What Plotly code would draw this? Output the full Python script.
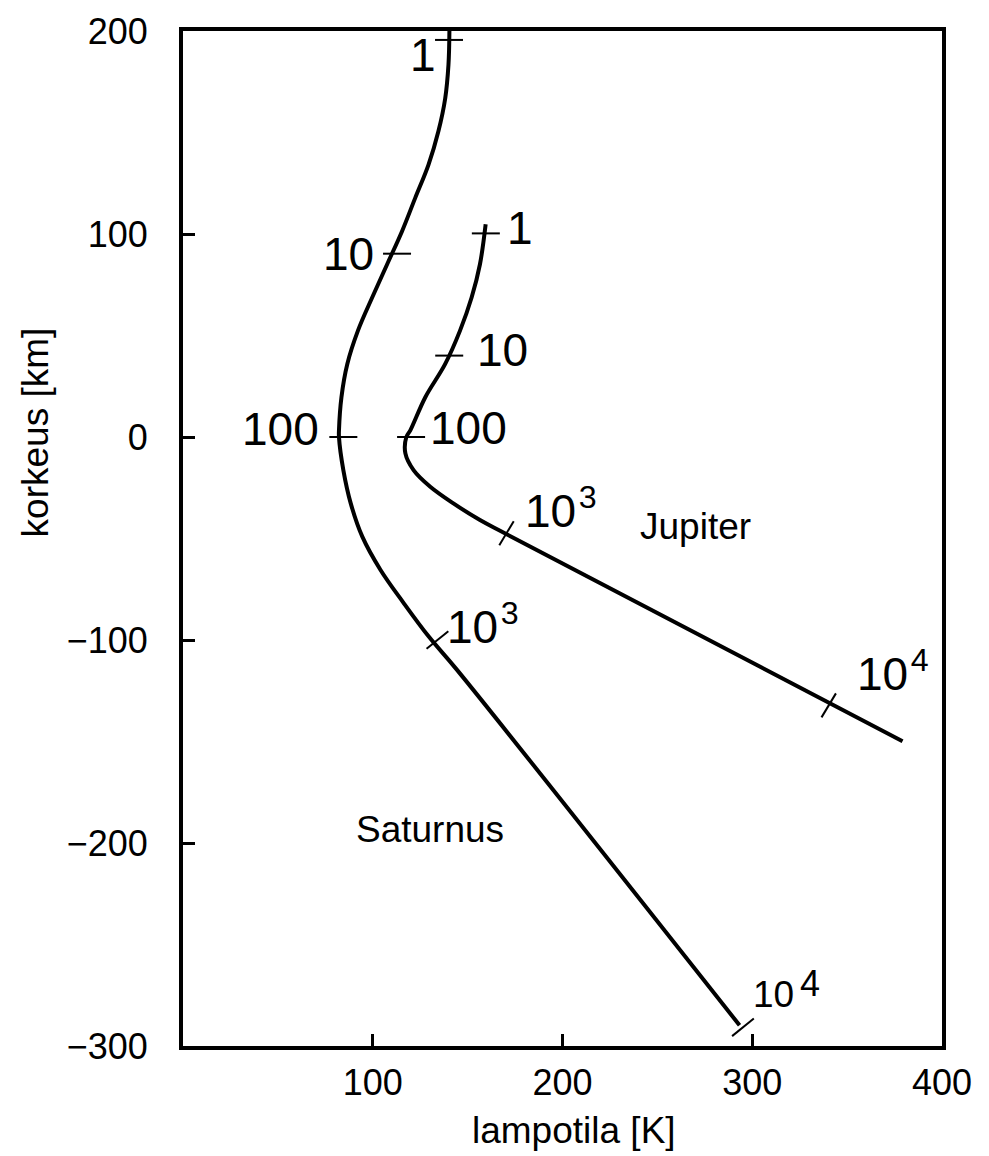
import plotly.graph_objects as go

# ---- data ----
# Saturn temperature profile: temperature [K], altitude [km]
saturn_T = [140.4, 139.9, 138.2, 134.6, 129.4, 122.4, 115.5, 107.6, 99.7, 92.2, 86.6, 83.5,
            82.2, 82.2, 84.5, 88.4, 94.5, 104.1, 116.3, 129.4, 144.3, 293.3]
saturn_h = [200.0, 183.3, 166.9, 150.6, 134.2, 117.8, 101.5, 85.1, 68.7, 52.4, 36.0, 19.6,
            3.3, 0.0, -16.3, -32.7, -49.1, -65.5, -81.8, -98.2, -114.6, -289.8]

# Jupiter temperature profile
jupiter_T = [159.5, 156.5, 152.1, 146.0, 138.2, 127.7, 119.8, 117.7, 117.2, 121.5, 130.3,
             142.5, 156.5, 169.6, 379.2]
jupiter_h = [104.8, 85.1, 68.7, 52.4, 36.0, 19.6, 3.3, 0.0, -8.1, -16.3, -24.5,
             -32.7, -40.9, -47.4, -149.9]

# pressure level markers (mbar) along the curves
saturn_p_T = [140.2, 112.8, 84.5, 134.1, 295.1]
saturn_p_h = [195.6, 90.3, 0.0, -100.0, -290.8]
saturn_p_lab = ["1", "10", "100", "10³", "10⁴"]

jupiter_p_T = [159.6, 140.3, 120.2, 170.5, 340.3]
jupiter_p_h = [100.3, 40.1, 0.0, -47.4, -132.2]
jupiter_p_lab = ["1", "10", "100", "10³", "10⁴"]

x_ticks = [100, 200, 300, 400]
y_ticks = [-300, -200, -100, 0, 100, 200]

FONT = "Liberation Sans, Arial, Helvetica, sans-serif"

fig = go.Figure()

for T, h in [(saturn_T, saturn_h), (jupiter_T, jupiter_h)]:
    fig.add_trace(go.Scatter(x=T, y=h, mode="lines",
                             line=dict(color="black", width=4, shape="spline", smoothing=1.0),
                             hoverinfo="skip", showlegend=False))

# marker orientation: horizontal for low-pressure marks, perpendicular to the line otherwise
def marker_angles(labels, slant):
    return [0 if lab in ("1", "10", "100") else slant for lab in labels]

def marker_symbols(labels):
    return ["line-ew" if lab in ("1", "10", "100") else "line-ns" for lab in labels]

fig.add_trace(go.Scatter(x=saturn_p_T, y=saturn_p_h, mode="markers",
                         marker=dict(symbol=marker_symbols(saturn_p_lab), size=20,
                                     angle=marker_angles(saturn_p_lab, 51),
                                     line=dict(color="black", width=2)),
                         hoverinfo="skip", showlegend=False))
fig.add_trace(go.Scatter(x=jupiter_p_T, y=jupiter_p_h, mode="markers",
                         marker=dict(symbol=marker_symbols(jupiter_p_lab), size=20,
                                     angle=marker_angles(jupiter_p_lab, 31),
                                     line=dict(color="black", width=2)),
                         hoverinfo="skip", showlegend=False))

def lab(x, y, text, anchor, size=46):
    fig.add_annotation(x=x, y=y, text=text, showarrow=False, xanchor=anchor, yanchor="middle",
                       font=dict(family=FONT, size=size, color="black"))

sup = lambda base, e: f"{base}<sup>\u200a{e}</sup>"

# Saturn labels
lab(134.5, 188.1, saturn_p_lab[0], "right")
lab(101.5, 90.2, saturn_p_lab[1], "right")
lab(72.6, 3.8, saturn_p_lab[2], "right")
lab(138.1, -92.0, sup("10", "3"), "left")
lab(299.4, -274.6, "10", "left", 37)
lab(324.2, -269.4, "4", "left", 36)
# Jupiter labels
lab(169.6, 103.2, jupiter_p_lab[0], "left")
lab(153.9, 43.1, jupiter_p_lab[1], "left")
lab(129.2, 4.3, jupiter_p_lab[2], "left")
lab(179.0, -35.0, sup("10", "3"), "left")
lab(354.1, -115.5, sup("10", "4"), "left")

# planet names
lab(270.0, -44.0, "Jupiter", "center", 37)
lab(130.0, -193.5, "Saturnus", "center", 37)

# axis titles
fig.add_annotation(x=0.5145, y=-0.083, xref="paper", yref="paper", text="lampotila [K]",
                   showarrow=False, xanchor="center", yanchor="middle",
                   font=dict(family=FONT, size=37, color="black"))
fig.add_annotation(x=-0.195, y=0.6045, xref="paper", yref="paper", text="korkeus [km]",
                   showarrow=False, xanchor="center", yanchor="middle", textangle=-90,
                   font=dict(family=FONT, size=37, color="black"))

axis_common = dict(showline=True, linecolor="black", linewidth=4, mirror=True,
                   ticks="inside", ticklen=12, tickwidth=3, tickcolor="black",
                   showgrid=False, zeroline=False,
                   tickfont=dict(family=FONT, size=36, color="black"))

fig.update_xaxes(range=[0, 400], tickvals=x_ticks, ticktext=[str(v) for v in x_ticks],
                 ticklabelstandoff=2, **axis_common)
fig.update_yaxes(range=[-300, 200], tickvals=y_ticks,
                 ticktext=[str(v).replace("-", "\u2212") for v in y_ticks],
                 ticklabelstandoff=24, **axis_common)

fig.update_layout(width=989, height=1156, margin=dict(l=183, r=47, t=31, b=110, autoexpand=False),
                  paper_bgcolor="white", plot_bgcolor="white",
                  font=dict(family=FONT, color="black"))

fig.write_html("out.html")
